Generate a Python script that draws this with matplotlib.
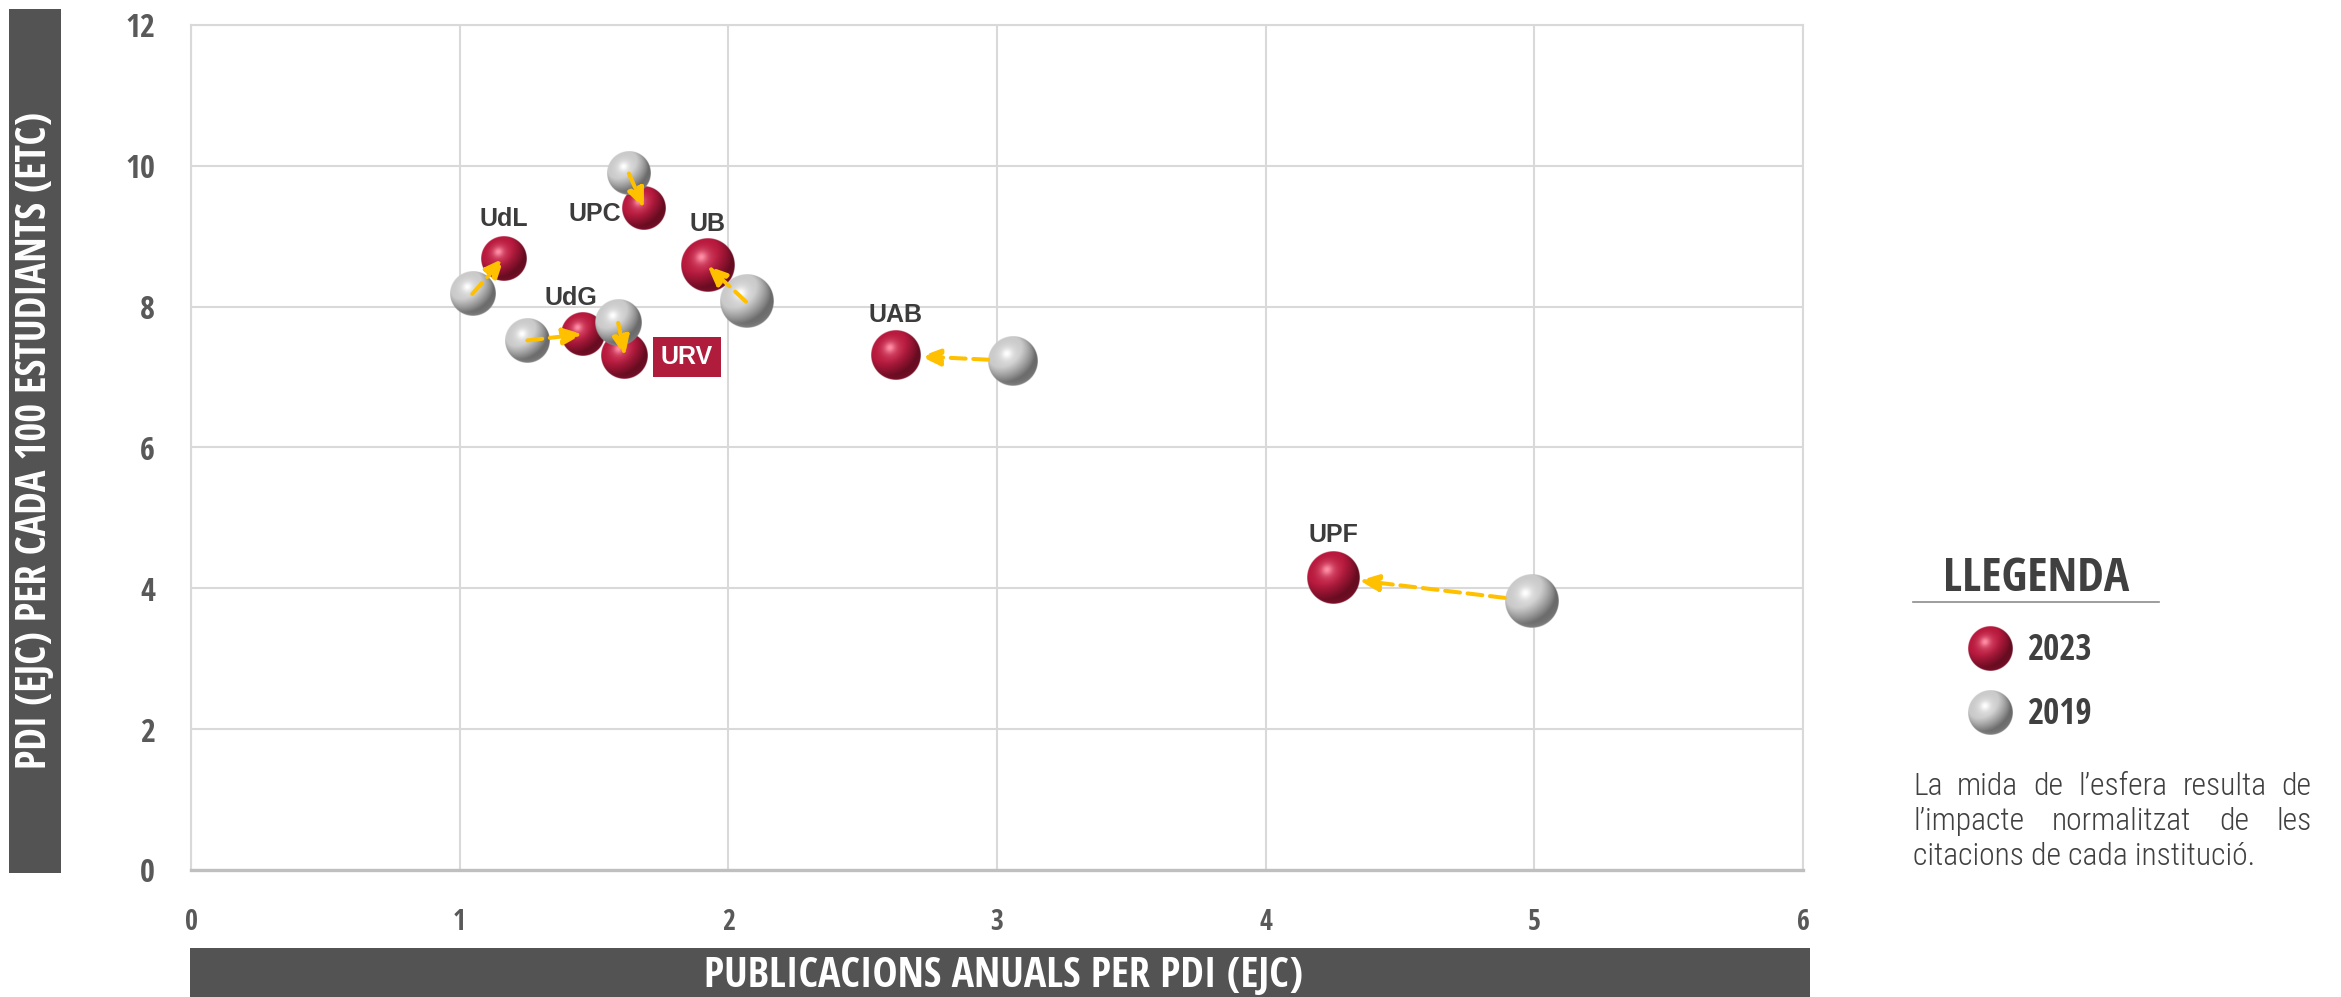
import numpy as np
import matplotlib
matplotlib.use('Agg')
import matplotlib.pyplot as plt
from matplotlib import font_manager as fm
from matplotlib.font_manager import FontProperties
from matplotlib.textpath import TextPath
from matplotlib.patches import Rectangle
from matplotlib.colors import to_rgb

# dades (llegides del gràfic)
universitats = ['UdL', 'UPC', 'UB', 'UdG', 'URV', 'UAB', 'UPF']
pub_2023 = [1.165, 1.686, 1.922, 1.457, 1.615, 2.624, 4.252]
pdi_2023 = [8.69, 9.40, 8.58, 7.61, 7.30, 7.31, 4.155]
pub_2019 = [1.047, 1.630, 2.066, 1.252, 1.590, 3.060, 4.988]
pdi_2019 = [8.18, 9.89, 8.07, 7.52, 7.77, 7.23, 3.82]
# impacte normalitzat (relatiu, determina la mida de l'esfera)
impacte_2023 = [1.00, 0.96, 1.18, 0.96, 1.04, 1.11, 1.16]
impacte_2019 = [1.00, 0.96, 1.18, 0.98, 1.04, 1.11, 1.18]

x_ticks = [0, 1, 2, 3, 4, 5, 6]
y_ticks = [0, 2, 4, 6, 8, 10, 12]
titol_x = 'PUBLICACIONS ANUALS PER PDI (EJC)'
titol_y = 'PDI (EJC) PER CADA 100 ESTUDIANTS (ETC)'
titol_llegenda = 'LLEGENDA'
anys = ['2023', '2019']
nota = ['La mida de l\u2019esfera resulta de',
        'l\u2019impacte normalitzat de les',
        'citacions de cada instituci\u00f3.']

# desplaçament de les etiquetes respecte de l'esfera 2023 (px)
despl = {'UdL': (0, 39), 'UPC': (-49, -6), 'UB': (0, 42), 'UdG': (-12, 36),
         'URV': (62, -1), 'UAB': (0, 40), 'UPF': (0, 42)}

W, H = 2341, 997
PX = 0.72  # punts per pixel a 100 dpi
fig = plt.figure(figsize=(W / 100, H / 100), dpi=100)

# buscar fonts condensades
def pes(w):
    return w if isinstance(w, (int, float)) else fm.weight_dict.get(w, 400)

candidates = ['Open Sans Condensed', 'Roboto Condensed', 'Liberation Sans Narrow',
              'Noto Sans Condensed', 'DejaVu Sans Condensed']
pesos = {}
for f in fm.fontManager.ttflist:
    pesos.setdefault(f.name, set()).add(pes(f.weight))

def font_condensada():
    for n in candidates:
        if n in pesos:
            return {'family': n}
    for f in fm.fontManager.ttflist:
        if 'condensed' in str(f.stretch) and f.name in ('Open Sans', 'Noto Sans', 'Roboto', 'DejaVu Sans'):
            return {'family': f.name, 'stretch': f.stretch}
    return {'family': 'Roboto'}
COND = font_condensada()

def font_nota():
    # cal una condensada amb pes lleuger per al text de la nota
    for n in candidates:
        if n in pesos and min(pesos[n]) <= 400:
            return FontProperties(family=n, weight=min(pesos[n]))
    for f in fm.fontManager.ttflist:
        if 'condensed' in str(f.stretch) and pes(f.weight) <= 400:
            return FontProperties(family=f.name, stretch=f.stretch, weight=pes(f.weight))
    return FontProperties(family='Roboto', weight='light')

def fcond(weight='bold'):
    return FontProperties(weight=weight, **COND)

def mida(text, prop, cap_px=None, ample_px=None):
    s = []
    if cap_px:
        h = TextPath((0, 0), 'H', size=100, prop=prop).get_extents().height
        s.append(100 * cap_px * PX / h)
    if ample_px:
        w = TextPath((0, 0), text, size=100, prop=prop).get_extents().width
        s.append(100 * ample_px * PX / w)
    return min(s)

def amb_mida(prop, size):
    p = prop.copy()
    p.set_size(size)
    return p

# imatge d'una esfera
def esfera(fosc, mig, clar, n=200):
    u = np.linspace(-1, 1, n)
    X, Y = np.meshgrid(u, -u)
    r = np.sqrt(X**2 + Y**2)
    Z = np.sqrt(np.clip(1 - r**2, 0, 1))
    L = np.array([-0.45, 0.55, 0.70]); L /= np.linalg.norm(L)
    d = np.clip(X * L[0] + Y * L[1] + Z * L[2], 0, 1)
    Hv = L + np.array([0, 0, 1.0]); Hv /= np.linalg.norm(Hv)
    nh = np.clip(X * Hv[0] + Y * Hv[1] + Z * Hv[2], 0, 1)
    fosc, mig, clar = [np.array(to_rgb(c)) for c in (fosc, mig, clar)]
    t = np.clip(0.25 + 1.1 * d, 0, 1)[..., None]
    rgb = fosc + (mig - fosc) * t
    rgb = rgb + (clar - rgb) * (0.45 * nh**10 + 0.55 * nh**50)[..., None]
    vora = (np.clip(-Y, 0, 1) * np.clip(1 - Z, 0, 1)**2)[..., None] * 0.45
    rgb = rgb + (mig - rgb) * vora
    a = np.clip((1 - r) * n / 2, 0, 1)
    return np.dstack([np.clip(rgb, 0, 1), a])

img_vermell = esfera('#4a0818', '#b8193d', '#ff8fa6')
img_gris = esfera('#4a4a4a', '#cacaca', '#ffffff')
DIAM = 45  # px per unitat d'impacte

# eixos principals
ax = fig.add_axes([191 / W, 1 - 870 / H, (1803 - 191) / W, (870 - 25) / H])
pos = ax.get_position()
ppx = pos.width * W / 6
ppy = pos.height * H / 12

for i, u in enumerate(universitats):
    for xs, ys, imp, img, z in [(pub_2023, pdi_2023, impacte_2023, img_vermell, 3),
                                (pub_2019, pdi_2019, impacte_2019, img_gris, 4)]:
        r = DIAM * imp[i] / 2
        rx, ry = r / ppx, r / ppy
        ax.imshow(img, extent=[xs[i] - rx, xs[i] + rx, ys[i] - ry, ys[i] + ry],
                  aspect='auto', interpolation='bilinear', zorder=z)

# fletxes 2019 -> 2023
for i, u in enumerate(universitats):
    x0, y0, x1, y1 = pub_2019[i], pdi_2019[i], pub_2023[i], pdi_2023[i]
    r0 = DIAM * impacte_2019[i] / 2
    r1 = DIAM * impacte_2023[i] / 2
    dist = np.hypot((x1 - x0) * ppx, (y1 - y0) * ppy)
    if dist > 2 * (r0 + r1):
        sA, sB = r0 * PX, r1 * PX
    else:
        sA, sB = 0, 0
    ax.annotate('', xy=(x1, y1), xytext=(x0, y0),
                arrowprops=dict(arrowstyle='-|>,head_length=0.58,head_width=0.25',
                                mutation_scale=20, color='#FFC000', lw=2.9,
                                ls=(0, (3.7, 1.9)), shrinkA=sA, shrinkB=sB),
                zorder=6)

# etiquetes
for i, u in enumerate(universitats):
    dx, dy = despl[u]
    if u == 'URV':
        ax.annotate(u, (pub_2023[i], pdi_2023[i]), xytext=(dx * PX, dy * PX),
                    textcoords='offset points', ha='center', va='center',
                    fontsize=18, fontweight='bold', family='Liberation Sans', color='white',
                    bbox=dict(boxstyle='square,pad=0.32', fc='#b01c3c', ec='none'), zorder=8)
    else:
        ax.annotate(u, (pub_2023[i], pdi_2023[i]), xytext=(dx * PX, dy * PX),
                    textcoords='offset points', ha='center', va='center',
                    fontsize=18, fontweight='bold', family='Liberation Sans',
                    color='#3c3c3c', zorder=8)

ax.set_xlim(0, 6)
ax.set_ylim(0, 12)
ax.set_xticks(x_ticks)
ax.set_yticks(y_ticks)
fx = amb_mida(fcond('bold'), mida('0', fcond('bold'), cap_px=20))
fy = amb_mida(fcond('bold'), mida('0', fcond('bold'), cap_px=23))
ax.set_xticklabels([str(v) for v in x_ticks], fontproperties=fx, color='#595959')
ax.set_yticklabels([str(v) for v in y_ticks], fontproperties=fy, color='#595959')
ax.tick_params(axis='x', length=0, pad=27)
ax.tick_params(axis='y', length=0, pad=26)
ax.grid(True, color='#D9D9D9', lw=1.5)
ax.set_axisbelow(True)
for s in ['left', 'top', 'right']:
    ax.spines[s].set_color('#D9D9D9')
    ax.spines[s].set_linewidth(1.5)
ax.spines['bottom'].set_color('#BFBFBF')
ax.spines['bottom'].set_linewidth(2.4)

# capa en pixels per a caixes de títol i llegenda
fax = fig.add_axes([0, 0, 1, 1])
fax.set_xlim(0, W)
fax.set_ylim(0, H)
fax.axis('off')
fax.patch.set_alpha(0)

def Y(y):
    return H - y

fax.add_patch(Rectangle((9, Y(873)), 52, 864, fc='#535353', ec='none'))
fax.add_patch(Rectangle((190, Y(1000)), 1620, 52, fc='#535353', ec='none'))

pb = fcond('bold')
fax.text(1003, Y(987), titol_x, ha='center', va='baseline', color='white',
         fontproperties=amb_mida(pb, mida(titol_x, pb, cap_px=30, ample_px=597)))
fax.text(36, Y(440), titol_y, ha='center', va='center', rotation=90, color='white',
         fontproperties=amb_mida(pb, mida(titol_y, pb, cap_px=29, ample_px=680)))

# llegenda
fax.text(2036, Y(591), titol_llegenda, ha='center', va='baseline', color='#404040',
         fontproperties=amb_mida(pb, mida(titol_llegenda, pb, cap_px=36, ample_px=183)))
fax.plot([1913, 2159], [Y(602), Y(602)], color='#8c8c8c', lw=1.2)
f_any = amb_mida(pb, mida('2023', pb, cap_px=25, ample_px=70))
for img, cy, txt in [(img_vermell, 649, anys[0]), (img_gris, 713, anys[1])]:
    r = DIAM / 2
    fax.imshow(img, extent=[1990 - r, 1990 + r, Y(cy) - r, Y(cy) + r],
               aspect='auto', interpolation='bilinear')
    fax.text(2028, Y(cy + 11), txt, ha='left', va='baseline', color='#404040',
             fontproperties=f_any)
fax.set_xlim(0, W)
fax.set_ylim(0, H)

# nota justificada
pn = font_nota()
f_nota = amb_mida(pn, mida(nota[2], pn, cap_px=23, ample_px=338))
esq, dre = 1913, 2308
for k, (linia, base) in enumerate(zip(nota, [795, 830, 865])):
    if k < len(nota) - 1:
        paraules = linia.split(' ')
        amples = [TextPath((0, 0), p, size=f_nota.get_size(), prop=f_nota).get_extents().width / PX
                  for p in paraules]
        buit = (dre - esq - sum(amples)) / (len(paraules) - 1)
        x = esq
        for p, a in zip(paraules, amples):
            fax.text(x, Y(base), p, ha='left', va='baseline', color='#404040', fontproperties=f_nota)
            x += a + buit
    else:
        fax.text(esq, Y(base), linia, ha='left', va='baseline', color='#404040', fontproperties=f_nota)

fig.savefig('out.png', dpi=100)
